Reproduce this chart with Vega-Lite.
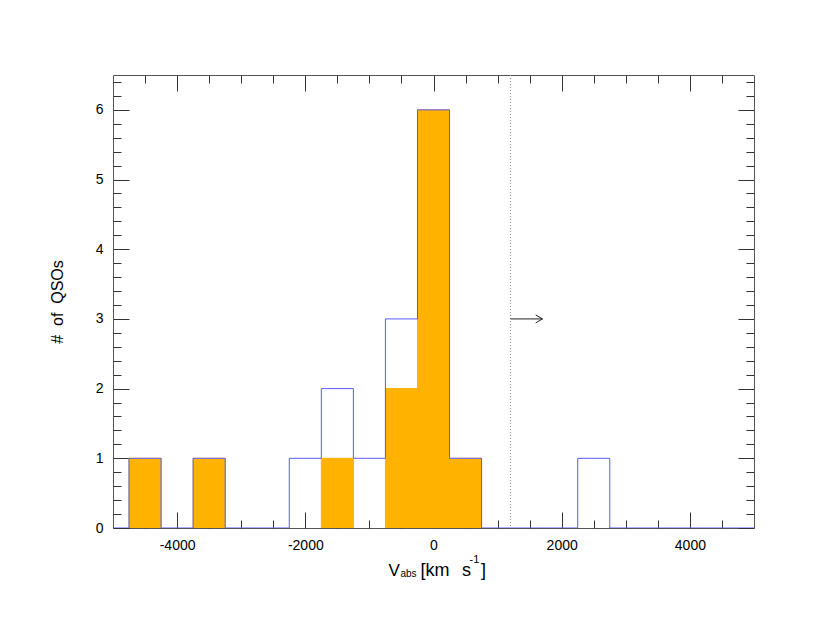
{
  "$schema": "https://vega.github.io/schema/vega-lite/v6.json",
  "width": 641,
  "height": 453,
  "autosize": {"type": "none"},
  "padding": {"left": 113, "top": 75, "right": 76, "bottom": 114},
  "background": "white",
  "config": {
    "view": {"stroke": null},
    "axis": {
      "grid": false,
      "domainColor": "#555555",
      "domainWidth": 1,
      "tickColor": "#333333",
      "tickWidth": 1,
      "labelFont": "Liberation Sans",
      "labelFontSize": 14,
      "labelColor": "#000000",
      "titleFont": "Liberation Sans",
      "titleColor": "#000000",
      "titleFontWeight": "normal"
    }
  },
  "datasets": {
    "bins": [
      {"v0": -5250, "v1": -4750, "all": 0, "sub": 0},
      {"v0": -4750, "v1": -4250, "all": 1, "sub": 1},
      {"v0": -4250, "v1": -3750, "all": 0, "sub": 0},
      {"v0": -3750, "v1": -3250, "all": 1, "sub": 1},
      {"v0": -3250, "v1": -2750, "all": 0, "sub": 0},
      {"v0": -2750, "v1": -2250, "all": 0, "sub": 0},
      {"v0": -2250, "v1": -1750, "all": 1, "sub": 0},
      {"v0": -1750, "v1": -1250, "all": 2, "sub": 1},
      {"v0": -1250, "v1": -750, "all": 1, "sub": 0},
      {"v0": -750, "v1": -250, "all": 3, "sub": 2},
      {"v0": -250, "v1": 250, "all": 6, "sub": 6},
      {"v0": 250, "v1": 750, "all": 1, "sub": 1},
      {"v0": 750, "v1": 1250, "all": 0, "sub": 0},
      {"v0": 1250, "v1": 1750, "all": 0, "sub": 0},
      {"v0": 1750, "v1": 2250, "all": 0, "sub": 0},
      {"v0": 2250, "v1": 2750, "all": 1, "sub": 0},
      {"v0": 2750, "v1": 3250, "all": 0, "sub": 0},
      {"v0": 3250, "v1": 3750, "all": 0, "sub": 0},
      {"v0": 3750, "v1": 4250, "all": 0, "sub": 0},
      {"v0": 4250, "v1": 4750, "all": 0, "sub": 0},
      {"v0": 4750, "v1": 5250, "all": 0, "sub": 0},
      {"v0": 5250, "v1": 5750, "all": 0, "sub": 0}
    ],
    "one": [{}]
  },
  "data": {"name": "bins"},
  "layer": [
    {
      "transform": [{"filter": "datum.sub > 0"}],
      "mark": {"type": "bar", "color": "#ffb300", "stroke": "#ffb300", "strokeWidth": 1, "clip": true},
      "encoding": {
        "x": {"field": "v0", "type": "quantitative",
          "scale": {"domain": [-5000, 5000], "nice": false, "zero": false, "padding": 0},
          "axis": {"orient": "bottom", "values": [-4000, -2000, 0, 2000, 4000], "tickSize": -16, "labelPadding": 26,
            "labelExpr": "datum.value < 0 ? '-' + abs(datum.value) : '' + datum.value", "title": null}},
        "x2": {"field": "v1"},
        "y": {"field": "sub", "type": "quantitative",
          "scale": {"domain": [0, 6.5], "nice": false, "zero": true, "padding": 0},
          "axis": {"orient": "left", "values": [0, 1, 2, 3, 4, 5, 6], "tickSize": -16, "labelPadding": 26,
            "title": "#\u00a0\u00a0of\u00a0\u00a0QSOs", "titleFontSize": 16, "titlePadding": 30}},
        "y2": {"datum": 0}
      }
    },
    {
      "mark": {"type": "line", "interpolate": "step-after", "color": "#5a5aff", "strokeWidth": 1, "clip": true},
      "encoding": {
        "x": {"field": "v0", "type": "quantitative",
          "axis": {"orient": "bottom", "values": [-4500, -4000, -3500, -3000, -2500, -2000, -1500, -1000, -500, 0, 500, 1000, 1500, 2000, 2500, 3000, 3500, 4000, 4500],
            "tickSize": -8, "labels": false, "domain": false, "title": null}},
        "y": {"field": "all", "type": "quantitative",
          "axis": {"orient": "left", "values": [0.2, 0.4, 0.6, 0.8, 1.2, 1.4, 1.6, 1.8, 2.2, 2.4, 2.6, 2.8, 3.2, 3.4, 3.6, 3.8, 4.2, 4.4, 4.6, 4.8, 5.2, 5.4, 5.6, 5.8, 6.2, 6.4],
            "tickSize": -8, "labels": false, "domain": false, "title": null}}
      }
    },
    {
      "data": {"name": "one"},
      "mark": {"type": "rule", "color": "#888888", "strokeWidth": 1, "strokeDash": [1, 2]},
      "encoding": {
        "x": {"datum": 1200, "type": "quantitative",
          "axis": {"orient": "top", "values": [-4000, -2000, 0, 2000, 4000], "tickSize": -16, "labels": false, "domain": true, "title": null}}
      }
    },
    {
      "data": {"name": "one"},
      "mark": {"type": "rule", "color": "#222222", "strokeWidth": 1},
      "encoding": {
        "x": {"datum": 1200, "type": "quantitative",
          "axis": {"orient": "top", "values": [-4500, -4000, -3500, -3000, -2500, -2000, -1500, -1000, -500, 0, 500, 1000, 1500, 2000, 2500, 3000, 3500, 4000, 4500],
            "tickSize": -8, "labels": false, "domain": false, "title": null}},
        "x2": {"datum": 1700},
        "y": {"datum": 3, "type": "quantitative",
          "axis": {"orient": "right", "values": [0, 1, 2, 3, 4, 5, 6], "tickSize": -16, "labels": false, "domain": true, "title": null}}
      }
    },
    {
      "data": {"name": "one"},
      "mark": {"type": "point", "shape": "M-1.7,-1L0,0L-1.7,1", "size": 64, "filled": false, "stroke": "#222222", "strokeWidth": 1, "opacity": 1},
      "encoding": {
        "x": {"datum": 1700, "type": "quantitative", "axis": null},
        "y": {"datum": 3, "type": "quantitative",
          "axis": {"orient": "right", "values": [0.2, 0.4, 0.6, 0.8, 1.2, 1.4, 1.6, 1.8, 2.2, 2.4, 2.6, 2.8, 3.2, 3.4, 3.6, 3.8, 4.2, 4.4, 4.6, 4.8, 5.2, 5.4, 5.6, 5.8, 6.2, 6.4],
            "tickSize": -8, "labels": false, "domain": false, "title": null}}
      }
    },
    {
      "data": {"name": "one"},
      "mark": {"type": "text", "text": "V", "font": "Liberation Sans", "fontSize": 17, "align": "left", "baseline": "alphabetic", "dx": -45, "dy": 48, "color": "#000000", "clip": false},
      "encoding": {"x": {"datum": 0, "type": "quantitative", "axis": null}, "y": {"datum": 0, "type": "quantitative", "axis": null}}
    },
    {
      "data": {"name": "one"},
      "mark": {"type": "text", "text": "abs", "font": "Liberation Sans", "fontSize": 10, "align": "left", "baseline": "alphabetic", "dx": -33, "dy": 49, "color": "#000000", "clip": false},
      "encoding": {"x": {"datum": 0, "type": "quantitative", "axis": null}, "y": {"datum": 0, "type": "quantitative", "axis": null}}
    },
    {
      "data": {"name": "one"},
      "mark": {"type": "text", "text": "[km", "font": "Liberation Sans", "fontSize": 18, "align": "left", "baseline": "alphabetic", "dx": -13, "dy": 48, "color": "#000000", "clip": false},
      "encoding": {"x": {"datum": 0, "type": "quantitative", "axis": null}, "y": {"datum": 0, "type": "quantitative", "axis": null}}
    },
    {
      "data": {"name": "one"},
      "mark": {"type": "text", "text": "s", "font": "Liberation Sans", "fontSize": 18, "align": "left", "baseline": "alphabetic", "dx": 28.5, "dy": 48, "color": "#000000", "clip": false},
      "encoding": {"x": {"datum": 0, "type": "quantitative", "axis": null}, "y": {"datum": 0, "type": "quantitative", "axis": null}}
    },
    {
      "data": {"name": "one"},
      "mark": {"type": "text", "text": "-1", "font": "Liberation Sans", "fontSize": 11, "align": "left", "baseline": "alphabetic", "dx": 36, "dy": 35, "color": "#000000", "clip": false},
      "encoding": {"x": {"datum": 0, "type": "quantitative", "axis": null}, "y": {"datum": 0, "type": "quantitative", "axis": null}}
    },
    {
      "data": {"name": "one"},
      "mark": {"type": "text", "text": "]", "font": "Liberation Sans", "fontSize": 18, "align": "left", "baseline": "alphabetic", "dx": 47.5, "dy": 48, "color": "#000000", "clip": false},
      "encoding": {"x": {"datum": 0, "type": "quantitative", "axis": null}, "y": {"datum": 0, "type": "quantitative", "axis": null}}
    }
  ],
  "resolve": {"axis": {"x": "independent", "y": "independent"}}
}
